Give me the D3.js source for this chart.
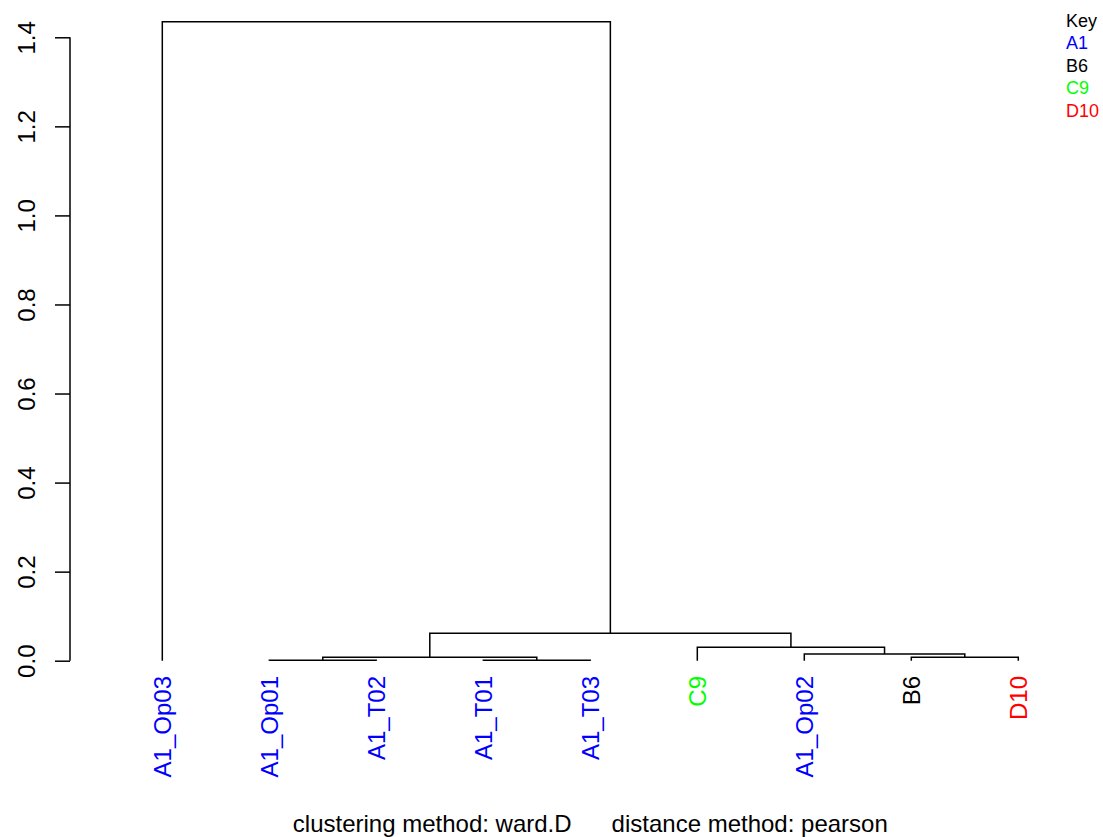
<!DOCTYPE html>
<html>
<head>
<meta charset="utf-8">
<script src="https://cdn.jsdelivr.net/npm/d3@7"></script>
<style>
  body { margin: 0; background: #fff; }
  svg text { font-family: "Liberation Sans", Arial, sans-serif; }
</style>
</head>
<body>
<svg id="chart" width="1103" height="837"></svg>
<script>
// leaves in plotting order, and their group
const leaves = ["A1_Op03","A1_Op01","A1_T02","A1_T01","A1_T03","C9","A1_Op02","B6","D10"];
const leafGroup = ["A1","A1","A1","A1","A1","C9","A1","B6","D10"];

// merge table like R hclust: negative = leaf (1-based), positive = earlier merge
const mergeLeft   = [-2, -4, -8, 1, -7, -6, 4, -1];
const mergeRight  = [-3, -5, -9, 2,  3,  5, 6,  7];
const mergeHeight = [0.0008, 0.0008, 0.008, 0.0075, 0.015, 0.030, 0.0615, 1.435];

const keyGroups = ["A1","B6","C9","D10"];
const keyColors = ["#0000ff","#000000","#00ff00","#ff0000"];
const yTicks = [0, 0.2, 0.4, 0.6, 0.8, 1.0, 1.2, 1.4];
const titleText = "clustering method: ward.D      distance method: pearson";

////////////////////////////////////////////
// SCALES
////////////////////////////////////////////

const svg = d3.select("#chart");
const x = d3.scalePoint().domain(leaves).range([162.3, 1018.3]);
const y = d3.scaleLinear().domain([0, 1.4]).range([660.7, 37.3]);
const col = d3.scaleOrdinal().domain(keyGroups).range(keyColors);

// y axis, R style
const yAxis = d3.axisLeft(y)
  .tickValues(yTicks)
  .tickFormat(d3.format(".1f"))
  .tickSize(15)
  .tickSizeOuter(0);

const gy = svg.append("g")
  .attr("transform", "translate(70,0)")
  .call(yAxis);
gy.select(".domain").attr("stroke", "#000").attr("stroke-width", 1.5)
  .attr("d", `M0,${y(0)}V${y(1.4)}`);
gy.selectAll(".tick line").attr("stroke", "#000").attr("stroke-width", 1.5);
gy.selectAll(".tick text")
  .attr("font-size", 24)
  .attr("fill", "#000")
  .attr("x", null).attr("dy", null)
  .attr("text-anchor", "middle")
  .attr("transform", "translate(-35,0) rotate(-90)");

////////////////////////////////////////////
// DENDROGRAM
////////////////////////////////////////////

// node position: leaves at height 0, merges at midpoint of children
let nodes = [];
function pos(i){
  if(i < 0) return {x: x(leaves[-i - 1]), h: 0};
  return nodes[i - 1];
}
mergeHeight.forEach((h, k) => {
  let a = pos(mergeLeft[k]), b = pos(mergeRight[k]);
  nodes.push({x: (a.x + b.x) / 2, h: h, a: a, b: b});
});

svg.append("g")
  .selectAll("path")
  .data(nodes)
  .join("path")
  .attr("fill", "none")
  .attr("stroke", "#000")
  .attr("stroke-width", 1.5)
  .attr("d", d => `M${d.a.x},${y(d.a.h)}V${y(d.h)}H${d.b.x}V${y(d.b.h)}`);

// leaf labels
svg.append("g")
  .selectAll("text")
  .data(leaves)
  .join("text")
  .attr("transform", d => `translate(${x(d)},676) rotate(-90)`)
  .attr("text-anchor", "end")
  .attr("dy", "0.36em")
  .attr("font-size", 24)
  .attr("fill", (d, i) => col(leafGroup[i]))
  .text(d => d);

// subtitle
svg.append("text")
  .attr("x", (x.range()[0] + x.range()[1]) / 2)
  .attr("y", 832)
  .attr("text-anchor", "middle")
  .attr("font-size", 24)
  .attr("fill", "#000")
  .attr("xml:space", "preserve")
  .style("white-space", "pre")
  .text(titleText);

// key
const key = svg.append("g").attr("transform", "translate(1066,0)");
key.append("text").attr("y", 26.5).attr("font-size", 18).attr("fill", "#000").text("Key");
key.selectAll("text.grp")
  .data(keyGroups)
  .join("text")
  .attr("class", "grp")
  .attr("y", (d, i) => 26.5 + 22.6 * (i + 1))
  .attr("font-size", 18)
  .attr("fill", d => col(d))
  .text(d => d);
</script>
</body>
</html>
